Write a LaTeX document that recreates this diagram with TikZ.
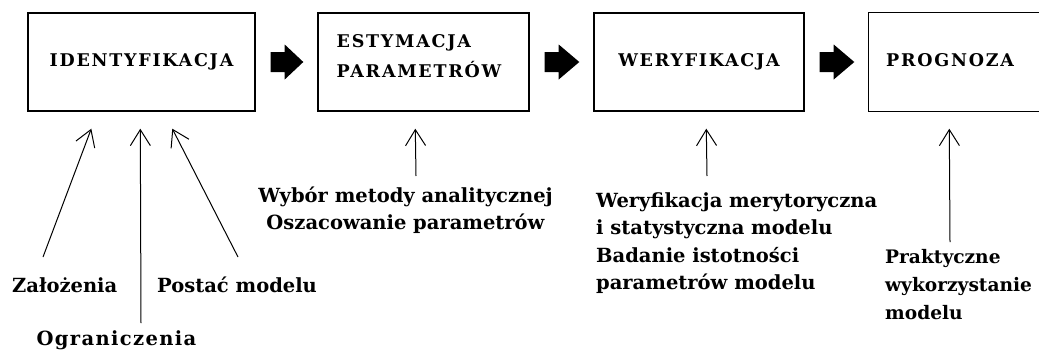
\documentclass[tikz,border=0pt]{standalone}
\usepackage{fontspec}
\setmainfont{DejaVu Serif}
\newfontfamily\ttlfont[LetterSpace=10]{DejaVu Serif}
\newfontfamily\lblfont[LetterSpace=0]{DejaVu Serif}
\newfontfamily\widefont[LetterSpace=7]{DejaVu Serif}
\usetikzlibrary{arrows.meta,calc}
\begin{document}
\begin{tikzpicture}[x=1pt,y=-1pt,
  box/.style={draw,line width=1.4pt,inner sep=0pt,minimum height=98pt,
    font=\ttlfont\bfseries\fontsize{17.5}{30}\selectfont,text height=12pt,text depth=4pt},
  lbl/.style={inner sep=0pt,font=\lblfont\bfseries\fontsize{19.5}{27.5}\selectfont},
  up/.style={line width=1pt,-{Straight Barb[length=16pt,width=20pt]}}]
\useasboundingbox (0,0) rectangle (1039,351);
\clip (0,0) rectangle (1039,351);
\fill[white] (0,0) rectangle (1039,351);

\node[box,minimum width=227pt] (b1) at (141.5,62) {IDENTYFIKACJA};
\node[box,minimum width=211pt,text height=0pt,text depth=30pt] (b2) at (423.5,62)
  {\begin{tabular}[t]{@{}l@{\hspace{9pt}}}ESTYMACJA\\PARAMETRÓW\end{tabular}};
\node[box,minimum width=210pt] (b3) at (699,62) {WERYFIKACJA};
\node[box,draw=none,minimum width=162pt] (b4) at (950,62) {PROGNOZA};
\draw[line width=1.4pt] ([xshift=40pt]b4.north east) -- (b4.north west)
  -- (b4.south west) -- ([xshift=40pt]b4.south east);

\foreach \s/\t in {b1/b2,b2/b3,b3/b4}
  \fill ($(\s.east)+(15,-10)$) -- ++(14,0) -- ++(0,-7.5) -- ($(\t.west)+(-14,0)$)
    -- ($(\s.east)+(29,17.5)$) -- ++(0,-7.5) -- ++(-14,0) -- cycle;

\node[lbl,anchor=base west] (zal) at (12,292) {Założenia};
\node[lbl,anchor=base west] (pos) at (157,292) {Postać modelu};
\node[lbl,anchor=base,font=\widefont\bfseries\fontsize{19.5}{27.5}\selectfont] (ogr) at (116.5,345) {Ograniczenia};
\node[lbl,anchor=base] (wyb) at (405.5,202)
  {\begin{tabular}[t]{@{}c@{}}Wybór metody analitycznej\\Oszacowanie parametrów\end{tabular}};
\node[lbl,anchor=base west] (wer) at (596,207)
  {\begin{tabular}[t]{@{}l@{}}Weryfikacja merytoryczna\\i statystyczna modelu\\Badanie istotności\\parametrów modelu\end{tabular}};
\node[lbl,anchor=base west,font=\lblfont\bfseries\fontsize{18.6}{28}\selectfont] (pra) at (885,263)
  {\begin{tabular}[t]{@{}l@{}}Praktyczne\\wykorzystanie\\modelu\end{tabular}};

\coordinate (h1) at ($(b1.south west)+(64,17)$);
\coordinate (h2) at ($(b1.south west)+(113,17)$);
\coordinate (h3) at ($(b1.south west)+(145,17)$);
\coordinate (h4) at ($(b2.south west)+(98,17)$);
\coordinate (h5) at ($(b3.south west)+(113,17)$);
\coordinate (h6) at ($(b4.south west)+(81,17)$);
\coordinate (t1) at (43,257);
\coordinate (t2) at (141,323);
\coordinate (t3) at (238,257);
\coordinate (t4) at (416,176);
\coordinate (t5) at (707,176);
\coordinate (t6) at (950,242);
\draw[up] (t1) -- (h1);
\draw[up] (t2) -- (h2);
\draw[up] (t3) -- (h3);
\draw[up] (t4) -- (h4);
\draw[up] (t5) -- (h5);
\draw[up] (t6) -- (h6);
\end{tikzpicture}
\end{document}
